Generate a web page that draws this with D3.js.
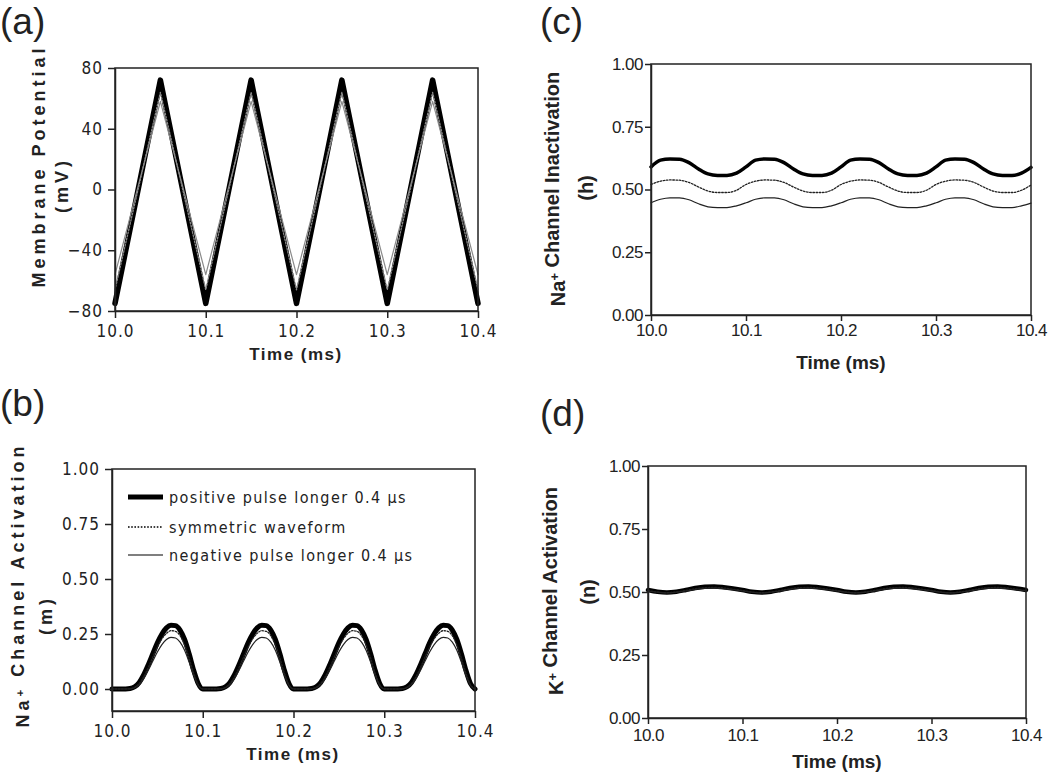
<!DOCTYPE html>
<html><head><meta charset="utf-8">
<script src="https://cdn.jsdelivr.net/npm/d3@7"></script>
<style>body{margin:0;background:#fff} svg{display:block;background:#fff}</style>
</head><body><svg id="chart" width="1050" height="777"></svg>
<script>
// ---------- DATA ----------
const xTicks = [10.0, 10.1, 10.2, 10.3, 10.4];
const vTicks = [-80, -40, 0, 40, 80];
const gateTicks = [0, 0.25, 0.5, 0.75, 1.0];
const seriesNames = ["positive pulse longer 0.4 \u03bcs", "symmetric waveform", "negative pulse longer 0.4 \u03bcs"];

// (a) membrane potential (mV)
const timeA = [10.00, 10.05, 10.10, 10.15, 10.20, 10.25, 10.30, 10.35, 10.40];
const vPositive  = [-75, 72, -75, 72, -75, 72, -75, 72, -75];
const vSymmetric = [-66, 64, -66, 64, -66, 64, -66, 64, -66];
const vNegative  = [-56, 58, -56, 58, -56, 58, -56, 58, -56];

// (b) Na+ activation m
const timeB = [
 10.000,10.005,10.010,10.015,10.020,10.025,10.030,10.035,10.040,10.045,10.050,10.055,10.060,10.065,10.070,10.075,10.080,10.085,10.090,10.095,
 10.100,10.105,10.110,10.115,10.120,10.125,10.130,10.135,10.140,10.145,10.150,10.155,10.160,10.165,10.170,10.175,10.180,10.185,10.190,10.195,
 10.200,10.205,10.210,10.215,10.220,10.225,10.230,10.235,10.240,10.245,10.250,10.255,10.260,10.265,10.270,10.275,10.280,10.285,10.290,10.295,
 10.300,10.305,10.310,10.315,10.320,10.325,10.330,10.335,10.340,10.345,10.350,10.355,10.360,10.365,10.370,10.375,10.380,10.385,10.390,10.395,
 10.400];
const mPositive = [
 0.000,0.000,0.000,0.000,0.002,0.010,0.030,0.065,0.110,0.160,0.210,0.250,0.278,0.290,0.288,0.268,0.225,0.160,0.085,0.025,
 0.000,0.000,0.000,0.000,0.002,0.010,0.030,0.065,0.110,0.160,0.210,0.250,0.278,0.290,0.288,0.268,0.225,0.160,0.085,0.025,
 0.000,0.000,0.000,0.000,0.002,0.010,0.030,0.065,0.110,0.160,0.210,0.250,0.278,0.290,0.288,0.268,0.225,0.160,0.085,0.025,
 0.000,0.000,0.000,0.000,0.002,0.010,0.030,0.065,0.110,0.160,0.210,0.250,0.278,0.290,0.288,0.268,0.225,0.160,0.085,0.025,
 0.000];
const mSymmetric = [
 0.000,0.000,0.000,0.000,0.001,0.008,0.025,0.056,0.098,0.145,0.190,0.228,0.253,0.265,0.262,0.242,0.200,0.140,0.072,0.020,
 0.000,0.000,0.000,0.000,0.001,0.008,0.025,0.056,0.098,0.145,0.190,0.228,0.253,0.265,0.262,0.242,0.200,0.140,0.072,0.020,
 0.000,0.000,0.000,0.000,0.001,0.008,0.025,0.056,0.098,0.145,0.190,0.228,0.253,0.265,0.262,0.242,0.200,0.140,0.072,0.020,
 0.000,0.000,0.000,0.000,0.001,0.008,0.025,0.056,0.098,0.145,0.190,0.228,0.253,0.265,0.262,0.242,0.200,0.140,0.072,0.020,
 0.000];
const mNegative = [
 0.000,0.000,0.000,0.000,0.001,0.006,0.020,0.047,0.085,0.127,0.168,0.202,0.225,0.235,0.232,0.213,0.176,0.122,0.062,0.016,
 0.000,0.000,0.000,0.000,0.001,0.006,0.020,0.047,0.085,0.127,0.168,0.202,0.225,0.235,0.232,0.213,0.176,0.122,0.062,0.016,
 0.000,0.000,0.000,0.000,0.001,0.006,0.020,0.047,0.085,0.127,0.168,0.202,0.225,0.235,0.232,0.213,0.176,0.122,0.062,0.016,
 0.000,0.000,0.000,0.000,0.001,0.006,0.020,0.047,0.085,0.127,0.168,0.202,0.225,0.235,0.232,0.213,0.176,0.122,0.062,0.016,
 0.000];

// (c) Na+ inactivation h and (d) K+ activation n
const timeCD = [
 10.00,10.01,10.02,10.03,10.04,10.05,10.06,10.07,10.08,10.09,
 10.10,10.11,10.12,10.13,10.14,10.15,10.16,10.17,10.18,10.19,
 10.20,10.21,10.22,10.23,10.24,10.25,10.26,10.27,10.28,10.29,
 10.30,10.31,10.32,10.33,10.34,10.35,10.36,10.37,10.38,10.39,
 10.40];
const hPositive = [
 0.590,0.617,0.622,0.621,0.607,0.582,0.562,0.556,0.556,0.565,
 0.590,0.617,0.622,0.621,0.607,0.582,0.562,0.556,0.556,0.565,
 0.590,0.617,0.622,0.621,0.607,0.582,0.562,0.556,0.556,0.565,
 0.590,0.617,0.622,0.621,0.607,0.582,0.562,0.556,0.556,0.565,
 0.588];
const hSymmetric = [
 0.520,0.533,0.538,0.537,0.528,0.510,0.494,0.488,0.488,0.497,
 0.520,0.533,0.538,0.537,0.528,0.510,0.494,0.488,0.488,0.497,
 0.520,0.533,0.538,0.537,0.528,0.510,0.494,0.488,0.488,0.497,
 0.520,0.533,0.538,0.537,0.528,0.510,0.494,0.488,0.488,0.497,
 0.518];
const hNegative = [
 0.447,0.461,0.467,0.467,0.459,0.443,0.431,0.428,0.428,0.435,
 0.447,0.461,0.467,0.467,0.459,0.443,0.431,0.428,0.428,0.435,
 0.447,0.461,0.467,0.467,0.459,0.443,0.431,0.428,0.428,0.435,
 0.447,0.461,0.467,0.467,0.459,0.443,0.431,0.428,0.428,0.435,
 0.446];
const nPositive = [
 0.508,0.501,0.498,0.501,0.508,0.516,0.521,0.522,0.519,0.514,
 0.508,0.501,0.498,0.501,0.508,0.516,0.521,0.522,0.519,0.514,
 0.508,0.501,0.498,0.501,0.508,0.516,0.521,0.522,0.519,0.514,
 0.508,0.501,0.498,0.501,0.508,0.516,0.521,0.522,0.519,0.514,
 0.508];
const nSymmetric = [
 0.506,0.500,0.497,0.500,0.506,0.513,0.517,0.518,0.516,0.511,
 0.506,0.500,0.497,0.500,0.506,0.513,0.517,0.518,0.516,0.511,
 0.506,0.500,0.497,0.500,0.506,0.513,0.517,0.518,0.516,0.511,
 0.506,0.500,0.497,0.500,0.506,0.513,0.517,0.518,0.516,0.511,
 0.506];
const nNegative = [
 0.504,0.499,0.496,0.499,0.504,0.510,0.514,0.515,0.513,0.509,
 0.504,0.499,0.496,0.499,0.504,0.510,0.514,0.515,0.513,0.509,
 0.504,0.499,0.496,0.499,0.504,0.510,0.514,0.515,0.513,0.509,
 0.504,0.499,0.496,0.499,0.504,0.510,0.514,0.515,0.513,0.509,
 0.504];

// ---------- DRAWING ----------
const svg = d3.select("#chart");
const NARROW = '"Liberation Sans Narrow","Arial Narrow","DejaVu Sans Condensed",sans-serif';
const SANS = '"Liberation Sans",Arial,Helvetica,sans-serif';
const INK = "#222";

const panels = [
  {left:115, right:478, top:68, bottom:311, yDomain:[-80,80], yTicks:vTicks, yFmt:d3.format("d"),
   time:timeA, series:[vPositive,vSymmetric,vNegative], curve:d3.curveLinear,
   font:NARROW, fs:17, ls:"1px", tick:7, xPad:7, yPad:5, thick:5.5, thin:"#8a8a8a"},
  {left:112, right:475, top:469, bottom:711, yDomain:[-0.1,1.0], yTicks:gateTicks, yFmt:d3.format(".2f"),
   time:timeB, series:[mPositive,mSymmetric,mNegative], curve:d3.curveMonotoneX,
   font:NARROW, fs:17, ls:"1px", tick:7, xPad:7, yPad:5, thick:5, thin:"#222"},
  {left:651, right:1031, top:64, bottom:315, yDomain:[0,1], yTicks:gateTicks, yFmt:d3.format(".2f"),
   time:timeCD, series:[hPositive,hSymmetric,hNegative], curve:d3.curveMonotoneX,
   font:SANS, fs:17, ls:"-0.5px", tick:6, xPad:3, yPad:2, thick:3.5, thin:"#222"},
  {left:648, right:1026, top:466, bottom:718, yDomain:[0,1], yTicks:gateTicks, yFmt:d3.format(".2f"),
   time:timeCD, series:[nPositive,nSymmetric,nNegative], curve:d3.curveMonotoneX,
   font:SANS, fs:17, ls:"-0.5px", tick:6, xPad:5, yPad:2, thick:4.5, thin:"#222"}
];

panels.forEach(p => {
  const w = p.right - p.left, h = p.bottom - p.top;
  const g = svg.append("g").attr("transform", `translate(${p.left},${p.top})`);
  const x = d3.scaleLinear().domain([10, 10.4]).range([0, w]);
  const y = d3.scaleLinear().domain(p.yDomain).range([h, 0]);
  const line = d3.line().x((d, i) => x(p.time[i])).y(d => y(d)).curve(p.curve);
  const styles = [
    {sw:p.thick, dash:null, col:"#000"},
    {sw:1.3, dash:"1.6,1.6", col:p.thin},
    {sw:1.2, dash:null, col:p.thin}
  ];
  p.series.forEach((s, k) => {
    g.append("path").attr("d", line(s)).attr("fill", "none")
      .attr("stroke", styles[k].col).attr("stroke-width", styles[k].sw)
      .attr("stroke-dasharray", styles[k].dash)
      .attr("stroke-linejoin", "round").attr("stroke-linecap", "round");
  });
  g.append("rect").attr("x", 0).attr("y", 0).attr("width", w).attr("height", h)
    .attr("fill", "none").attr("stroke", INK).attr("stroke-width", 1.5);
  const xa = g.append("g").attr("transform", `translate(0,${h})`)
    .call(d3.axisBottom(x).tickValues(xTicks).tickFormat(d3.format(".1f"))
      .tickSizeInner(p.tick).tickSizeOuter(0).tickPadding(p.xPad));
  const ya = g.append("g")
    .call(d3.axisLeft(y).tickValues(p.yTicks).tickFormat(p.yFmt)
      .tickSizeInner(p.tick).tickSizeOuter(0).tickPadding(p.yPad));
  [xa, ya].forEach(a => {
    a.selectAll("path.domain").attr("stroke", INK).attr("stroke-width", 1.5);
    a.selectAll(".tick line").attr("stroke", INK).attr("stroke-width", 1.5);
    a.selectAll(".tick text").attr("fill", INK).style("font-family", p.font)
      .style("font-size", p.fs + "px").style("letter-spacing", p.ls);
  });
});

// panel letters
[["(a)", 0, 34], ["(c)", 540, 34], ["(b)", 0, 416], ["(d)", 540, 426]].forEach(([t, px, py]) => {
  svg.append("text").attr("x", px).attr("y", py).text(t)
    .style("font-family", SANS).style("font-size", "37px").attr("fill", INK);
});

// x-axis titles
function xTitle(cx, by, font, fs, ls) {
  svg.append("text").attr("x", cx).attr("y", by).attr("text-anchor", "middle").text("Time (ms)")
    .style("font-family", font).style("font-size", fs + "px").style("font-weight", "bold")
    .style("letter-spacing", ls).attr("fill", INK);
}
xTitle(296, 360, SANS, 17, "1.5px");
xTitle(293, 760, SANS, 17, "1.5px");
xTitle(841, 369, SANS, 19, "0px");
xTitle(837, 768, SANS, 19, "0px");

// y-axis titles (rotated)
function yTitle(bx, cy, parts, fs, ls) {
  const t = svg.append("text").attr("transform", `translate(${bx},${cy}) rotate(-90)`)
    .attr("text-anchor", "middle").style("font-family", SANS).style("font-size", fs + "px")
    .style("font-weight", "bold").style("letter-spacing", ls).attr("fill", INK);
  parts.forEach(([s, sup]) => {
    if (sup) {
      t.append("tspan").attr("dy", "-0.45em").style("font-size", (fs * 0.65) + "px").text(s);
      t.append("tspan").attr("dy", "0.45em").text("");
    } else t.append("tspan").text(s);
  });
}
yTitle(45, 166, [["Membrane Potential"]], 18, "4px");
yTitle(68, 185, [["(mV)"]], 18, "4px");
yTitle(29, 585, [["Na"], ["+", true], [" Channel Activation"]], 18, "4px");
yTitle(52, 615, [["(m)"]], 18, "4px");
yTitle(565, 189, [["Na"], ["+", true], [" Channel Inactivation"]], 20, "0px");
yTitle(593, 188, [["(h)"]], 20, "0px");
yTitle(563, 591, [["K"], ["+", true], [" Channel Activation"]], 20, "0px");
yTitle(595, 592, [["(n)"]], 20, "0px");

// legend in (b)
const legendY = [497, 527, 555];
const legStyles = [{sw:5, dash:null}, {sw:1.3, dash:"1.6,1.6"}, {sw:1.2, dash:null}];
seriesNames.forEach((name, i) => {
  svg.append("line").attr("x1", 128).attr("x2", 163).attr("y1", legendY[i]).attr("y2", legendY[i])
    .attr("stroke", "#000").attr("stroke-width", legStyles[i].sw).attr("stroke-dasharray", legStyles[i].dash);
  svg.append("text").attr("x", 169).attr("y", legendY[i] + 6).text(name)
    .style("font-family", NARROW).style("font-size", "16px").style("letter-spacing", "1.4px").attr("fill", INK);
});
</script></body></html>
